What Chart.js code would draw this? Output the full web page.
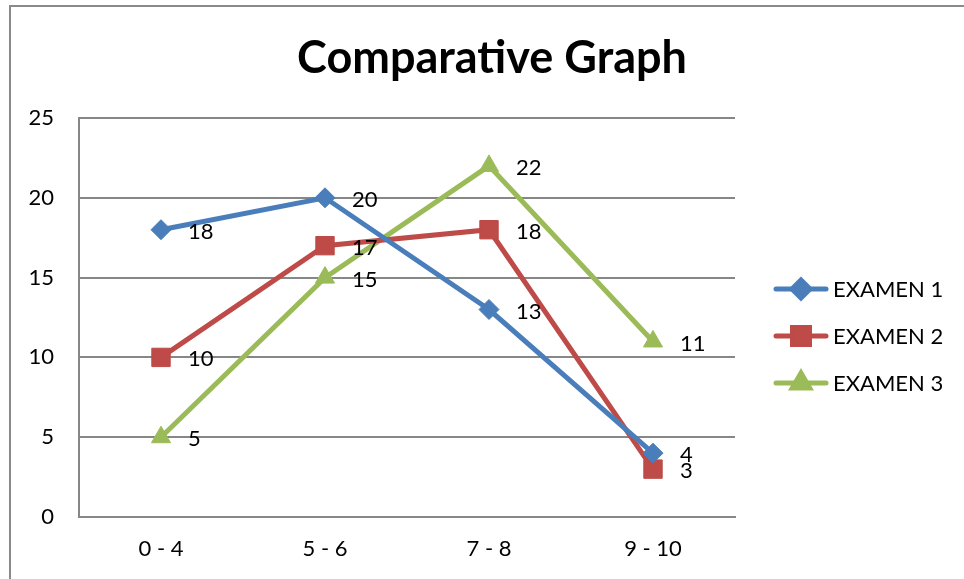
<!DOCTYPE html>
<html>
<head>
<meta charset="utf-8">
<script src="https://cdn.jsdelivr.net/npm/chart.js@4"></script>
<style>
  html, body { margin: 0; padding: 0; background: #fff; overflow: hidden; }
  #wrap { position: relative; width: 964px; height: 579px; }
  #frame { position: absolute; left: 9px; top: 5px; width: 1000px; height: 1000px; border: 2px solid #8a8a8a; }
  canvas { position: absolute; left: 0; top: 0; }
</style>
</head>
<body>
<div id="wrap">
  <div id="frame"></div>
  <canvas id="chart" width="964" height="579"></canvas>
</div>
<script>
const CATEGORIES = ["0 - 4", "5 - 6", "7 - 8", "9 - 10"];
const EXAMEN_1 = [18, 20, 13, 4];
const EXAMEN_2 = [10, 17, 18, 3];
const EXAMEN_3 = [5, 15, 22, 11];
const SERIES_NAMES = ["EXAMEN 1", "EXAMEN 2", "EXAMEN 3"];

const FONT = "Lato, 'Open Sans', sans-serif";
const GRID = "#878787";

const SERIES_STYLE = [
  { color: "#4a7ebb", point: "rectRot", radius: 10 },
  { color: "#be4b48", point: "rect", radius: 13 },
  { color: "#9bbb59", point: "triangle", radius: 11 },
];

// title, value labels and the right-hand legend are painted here
const decorations = {
  id: "decorations",
  afterDatasetsDraw(chart) {
    const { ctx } = chart;
    const xs = chart.scales.x, ys = chart.scales.y;
    ctx.save();
    ctx.fillStyle = "#000";
    ctx.font = `bold 45px ${FONT}`;
    ctx.textAlign = "center";
    ctx.textBaseline = "middle";
    ctx.fillText("Comparative Graph", 492, 58);

    ctx.font = `22px ${FONT}`;
    ctx.textAlign = "left";
    chart.data.datasets.forEach((ds) => {
      ds.data.forEach((v, i) => {
        ctx.fillText(String(v), xs.getPixelForValue(i) + 27, ys.getPixelForValue(v) + 2);
      });
    });

    chart.data.datasets.forEach((ds, i) => {
      const y = 289 + i * 47;
      ctx.strokeStyle = ds.borderColor;
      ctx.lineWidth = 5;
      ctx.lineCap = "round";
      ctx.beginPath();
      ctx.moveTo(776, y);
      ctx.lineTo(826, y);
      ctx.stroke();
      Chart.helpers.drawPoint(ctx, {
        pointStyle: ds.pointStyle, radius: ds.pointRadius - 1, borderWidth: 1,
      }, 801, y);
      ctx.fillStyle = ds.borderColor;
      ctx.fill();
      ctx.fillStyle = "#000";
      ctx.textBaseline = "middle";
      ctx.fillText(ds.label, 833, y + 1);
    });
    ctx.restore();
  },
};

const seriesValues = [EXAMEN_1, EXAMEN_2, EXAMEN_3];

new Chart(document.getElementById("chart"), {
  type: "line",
  data: {
    labels: CATEGORIES,
    datasets: seriesValues.map((vals, i) => ({
      label: SERIES_NAMES[i],
      data: vals,
      borderColor: SERIES_STYLE[i].color,
      backgroundColor: SERIES_STYLE[i].color,
      pointBackgroundColor: SERIES_STYLE[i].color,
      pointBorderColor: SERIES_STYLE[i].color,
      borderWidth: 5,
      pointStyle: SERIES_STYLE[i].point,
      pointRadius: SERIES_STYLE[i].radius,
      pointBorderWidth: 1,
      tension: 0,
    })),
  },
  options: {
    responsive: false,
    animation: false,
    layout: { padding: { top: 118, right: 229, bottom: 0, left: 0 } },
    plugins: {
      legend: { display: false },
      title: { display: false },
      tooltip: { enabled: false },
    },
    scales: {
      x: {
        offset: true,
        grid: { display: false, drawTicks: false },
        border: { color: GRID, width: 2 },
        ticks: { color: "#000", font: { family: FONT, size: 22 }, padding: 19 },
        afterFit: (s) => { s.height = 62; },
      },
      y: {
        min: 0,
        max: 25,
        grid: { color: GRID, lineWidth: 2, drawTicks: false },
        border: { color: GRID, width: 2 },
        ticks: { stepSize: 5, color: "#000", font: { family: FONT, size: 22 }, padding: 25 },
        afterFit: (s) => { s.width = 79; },
      },
    },
  },
  plugins: [decorations],
});
</script>
</body>
</html>
